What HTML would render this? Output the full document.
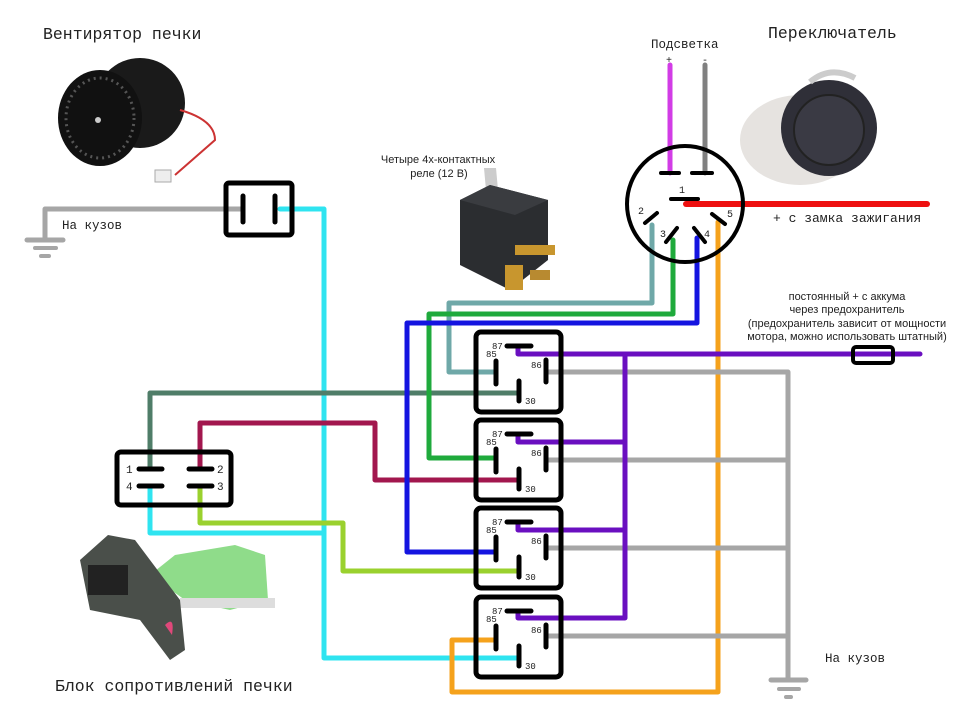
<!DOCTYPE html>
<html><head><meta charset="utf-8"><style>
html,body{margin:0;padding:0;background:#fff;}
svg{display:block;}
.m{font-family:"Liberation Mono","DejaVu Sans Mono",monospace;fill:#222;}
.s{font-family:"Liberation Sans","DejaVu Sans",sans-serif;fill:#222;}
.w{fill:none;stroke-linecap:round;stroke-linejoin:round;}
</style></head><body>
<svg width="960" height="720" viewBox="0 0 960 720" xmlns="http://www.w3.org/2000/svg">
<rect width="960" height="720" fill="#fff"/>

<!-- texts -->
<text class="m" x="43" y="39" font-size="16.5">Вентирятор печки</text>
<text class="m" x="768" y="38" font-size="16.5">Переключатель</text>
<text class="m" x="651" y="48" font-size="12.5">Подсветка</text>
<text class="m" x="666" y="63" font-size="10">+</text>
<text class="m" x="702" y="63" font-size="10">-</text>
<text class="s" x="438" y="163" font-size="11" text-anchor="middle">Четыре 4х-контактных</text>
<text class="s" x="439" y="177" font-size="11" text-anchor="middle">реле (12 В)</text>
<text class="m" x="773" y="222" font-size="13">+ с замка зажигания</text>
<text class="m" x="62" y="229" font-size="12.5">На кузов</text>
<text class="m" x="825" y="662" font-size="12.5">На кузов</text>
<text class="m" x="55" y="691" font-size="16.5">Блок сопротивлений печки</text>
<g class="s" font-size="11" text-anchor="middle">
<text x="847" y="300">постоянный + с аккума</text>
<text x="847" y="313">через предохранитель</text>
<text x="847" y="327">(предохранитель зависит от мощности</text>
<text x="847" y="340">мотора, можно использовать штатный)</text>
</g>

<!-- photos approximations -->
<g>
<ellipse cx="140" cy="103" rx="45" ry="45" fill="#1a1a1a"/>
<ellipse cx="100" cy="118" rx="42" ry="48" fill="#111"/>
<ellipse cx="100" cy="118" rx="34" ry="40" fill="none" stroke="#555" stroke-width="3" stroke-dasharray="2 4"/>
<circle cx="98" cy="120" r="3" fill="#ccc"/>
<path d="M180 110 Q215 120 215 140 L175 175" stroke="#c33" stroke-width="2" fill="none"/>
<rect x="155" y="170" width="16" height="12" fill="#eee" stroke="#aaa"/>
</g>
<g>
<path d="M484 168 L496 168 L498 190 L486 190 Z" fill="#ccc"/>
<path d="M460 200 L490 185 L548 200 L548 260 L510 290 L460 265 Z" fill="#2b2d30"/>
<path d="M490 185 L548 200 L515 215 L460 200 Z" fill="#3a3c40"/>
<rect x="515" y="245" width="40" height="10" fill="#c8962e"/>
<rect x="505" y="265" width="18" height="25" fill="#c8962e"/>
<rect x="530" y="270" width="20" height="10" fill="#b88a30"/>
</g>
<g>
<ellipse cx="800" cy="140" rx="60" ry="45" fill="#e6e3e0"/>
<circle cx="829" cy="128" r="48" fill="#2f2f38"/>
<circle cx="829" cy="130" r="35" fill="#3a3a44" stroke="#222" stroke-width="2"/>
<path d="M810 82 Q830 65 855 78" stroke="#ccc" stroke-width="6" fill="none"/>
</g>
<g>
<path d="M150 575 L175 555 L235 545 L265 555 L268 600 L230 610 L185 600 Z" fill="#8fdc8a"/>
<rect x="180" y="598" width="95" height="10" fill="#ddd"/>
<path d="M108 535 L135 540 L180 600 L185 650 L170 660 L140 620 L90 610 L80 560 Z" fill="#4a4f4a"/>
<rect x="88" y="565" width="40" height="30" fill="#222"/>
<path d="M165 625 Q175 615 172 635 Z" fill="#e0487a"/>
</g>

<!-- wires -->
<g class="w" stroke-width="5">
<path d="M45 240 L45 209 L243 209" stroke="#a6a6a6"/>
<path d="M280 209 L324 209 L324 658 L519 658" stroke="#2fe4f0"/>
<path d="M150 469 L150 393 L519 393" stroke="#4f7d68"/>
<path d="M200 469 L200 423 L375 423 L375 480 L519 480" stroke="#a2174e"/>
<path d="M200 486 L200 523 L343 523 L343 571 L519 571" stroke="#9ad12e"/>
<path d="M150 486 L150 533 L324 533" stroke="#2fe4f0"/>
<path d="M496 372 L449 372 L449 303 L652 303 L652 225" stroke="#6fa8a8"/>
<path d="M496 458 L429 458 L429 314 L673 314 L673 240" stroke="#1faa3c"/>
<path d="M496 552 L407 552 L407 323 L697 323 L697 238" stroke="#1414e0"/>
<path d="M496 640 L452 640 L452 692 L718 692 L718 222" stroke="#f5a21c"/>
<path d="M670 65 L670 173" stroke="#d23ce6"/>
<path d="M705 65 L705 173" stroke="#808080"/>
<path d="M686 204 L927 204" stroke="#ee1010" stroke-width="6"/>
<path d="M546 372 L788 372 L788 680" stroke="#a6a6a6"/>
<path d="M546 460 L788 460 M546 548 L788 548 M546 636 L788 636" stroke="#a6a6a6"/>
<path d="M518 346 L518 354 L920 354" stroke="#6a0fc0"/>
<path d="M625 354 L625 618 L518 618 L518 611" stroke="#6a0fc0"/>
<path d="M518 434 L518 442 L625 442 M518 522 L518 530 L625 530" stroke="#6a0fc0"/>
</g>
<!-- grounds -->
<g stroke="#a6a6a6" stroke-linecap="round">
<line x1="27" y1="240" x2="63" y2="240" stroke-width="5"/>
<line x1="35" y1="248" x2="56" y2="248" stroke-width="4"/>
<line x1="41" y1="256" x2="49" y2="256" stroke-width="4"/>
<line x1="771" y1="680" x2="806" y2="680" stroke-width="5"/>
<line x1="779" y1="689" x2="799" y2="689" stroke-width="4"/>
<line x1="786" y1="697" x2="791" y2="697" stroke-width="4"/>
</g>
<!-- fuse -->
<rect x="853" y="347" width="40" height="16" rx="3" fill="none" stroke="#000" stroke-width="4"/>

<!-- fan connector -->
<rect x="226" y="183" width="66" height="52" rx="3" fill="none" stroke="#000" stroke-width="5"/>
<g stroke="#000" stroke-width="5" stroke-linecap="round">
<line x1="243" y1="196" x2="243" y2="222"/><line x1="275" y1="196" x2="275" y2="222"/>
</g>

<!-- resistor connector -->
<rect x="117" y="452" width="114" height="53" rx="4" fill="none" stroke="#000" stroke-width="5"/>
<g stroke="#000" stroke-width="5" stroke-linecap="round">
<line x1="139" y1="469" x2="162" y2="469"/><line x1="189" y1="469" x2="212" y2="469"/>
<line x1="139" y1="486" x2="162" y2="486"/><line x1="189" y1="486" x2="212" y2="486"/>
</g>
<g class="m" font-size="11">
<text x="126" y="473">1</text><text x="126" y="490">4</text>
<text x="217" y="473">2</text><text x="217" y="490">3</text>
</g>

<!-- switch -->
<circle cx="685" cy="204" r="58" fill="none" stroke="#000" stroke-width="4"/>
<g stroke="#000" stroke-width="4" stroke-linecap="round">
<line x1="661" y1="173" x2="679" y2="173"/><line x1="692" y1="173" x2="712" y2="173"/>
<line x1="671" y1="199" x2="698" y2="199"/>
<line x1="645" y1="223" x2="657" y2="213"/>
<line x1="666" y1="242" x2="677" y2="228"/>
<line x1="694" y1="228" x2="705" y2="242"/>
<line x1="712" y1="214" x2="725" y2="224"/>
</g>
<g class="m" font-size="10">
<text x="679" y="193">1</text><text x="638" y="214">2</text><text x="660" y="237">3</text>
<text x="704" y="237">4</text><text x="727" y="217">5</text>
</g>

<!-- relays -->
<defs>
<g id="rl">
<rect x="476" y="332" width="85" height="80" rx="5" fill="none" stroke="#000" stroke-width="5"/>
<g stroke="#000" stroke-width="5" stroke-linecap="round">
<line x1="507" y1="346" x2="531" y2="346"/>
<line x1="496" y1="361" x2="496" y2="384"/>
<line x1="519" y1="381" x2="519" y2="401"/>
<line x1="546" y1="360" x2="546" y2="382"/>
</g>
<g class="m" font-size="9">
<text x="492" y="349">87</text><text x="486" y="357">85</text>
<text x="531" y="368">86</text><text x="525" y="404">30</text>
</g>
</g>
</defs>
<use href="#rl"/>
<use href="#rl" transform="translate(0,88)"/>
<use href="#rl" transform="translate(0,176)"/>
<use href="#rl" transform="translate(0,265)"/>
</svg>
</body></html>
